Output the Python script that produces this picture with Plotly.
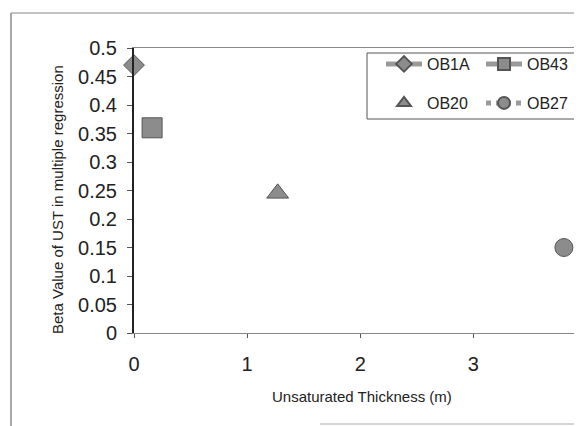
import plotly.graph_objects as go

series_names = ["OB1A", "OB43", "OB20", "OB27"]
x_values = [0.0, 0.16, 1.27, 3.8]
y_values = [0.47, 0.36, 0.245, 0.15]
symbols = ["diamond", "square", "triangle-up", "circle"]
modes = ["lines+markers", "lines+markers", "markers", "lines+markers"]
dashes = ["solid", "solid", "solid", "dot"]
sizes = [16, 20, 19, 18]
legend_ids = ["legend", "legend2", "legend3", "legend4"]

y_ticks = [0, 0.05, 0.1, 0.15, 0.2, 0.25, 0.3, 0.35, 0.4, 0.45, 0.5]
y_tick_text = ["0", "0.05", "0.1", "0.15", "0.2", "0.25", "0.3", "0.35", "0.4", "0.45", "0.5"]
x_ticks = [0, 1, 2, 3, 4]

# page offset of the browser (body margin)
OFF = 8
W, H = 582 - OFF, 426 - OFF
L, T = 134 - OFF, 48 - OFF
B = H - (333 - OFF)
R = 0
pw, ph = W - L - R, H - T - B


def px_x(p):
    return (p - OFF - L) / pw


def px_y(p):
    return 1 - (p - OFF - T) / ph


fig = go.Figure()
for i, name in enumerate(series_names):
    fig.add_trace(go.Scatter(
        x=[x_values[i]], y=[y_values[i]], name=name, mode=modes[i],
        marker=dict(symbol=symbols[i], size=sizes[i], color="#8c8c8c",
                    line=dict(color="#555555", width=1)),
        line=dict(color="#9a9a9a", width=2, dash=dashes[i]),
        legend=legend_ids[i], cliponaxis=False,
    ))

font = "Liberation Sans, Arial, sans-serif"
leg_common = dict(orientation="v", xanchor="left", yanchor="middle",
                  bgcolor="rgba(0,0,0,0)", borderwidth=0, itemsizing="constant",
                  itemwidth=36,
                  font=dict(family=font, size=16, color="#222"))

leg_pos = {  # (legend-left window x, row centre window y)
    "legend": (381, 64),
    "legend2": (481, 64),
    "legend3": (381, 103),
    "legend4": (481, 103),
}
legends = {k: dict(x=px_x(v[0]), y=px_y(v[1]), **leg_common) for k, v in leg_pos.items()}

fig.update_layout(
    width=W, height=H,
    margin=dict(l=L, r=R, t=T, b=B),
    paper_bgcolor="white", plot_bgcolor="white",
    font=dict(family=font, color="#222"),
    showlegend=True,
    **legends,
    xaxis=dict(range=[0, 3.96], tickvals=x_ticks, showgrid=False, zeroline=False,
               showline=True, linecolor="#888", linewidth=1, mirror=True,
               ticks="outside", ticklen=4, tickcolor="#555",
               ticklabelstandoff=9, tickfont=dict(size=20, color="#222")),
    yaxis=dict(range=[0, 0.5], tickvals=y_ticks, ticktext=y_tick_text,
               showgrid=False, zeroline=False, showline=True, linecolor="#222",
               linewidth=2, ticks="outside", ticklen=5, tickcolor="#555",
               ticklabelstandoff=6, tickfont=dict(size=20, color="#222")),
    annotations=[
        dict(text="Beta Value of UST in multiple regression", xref="paper", yref="paper",
             x=px_x(57), y=px_y(200), xanchor="center", yanchor="middle",
             textangle=-90, showarrow=False,
             font=dict(size=15, color="#222")),
        dict(text="Unsaturated Thickness (m)", xref="paper", yref="paper",
             x=px_x(362), y=px_y(396), xanchor="center", yanchor="middle",
             showarrow=False, font=dict(size=15, color="#222")),
    ],
    shapes=[
        dict(type="rect", xref="paper", yref="paper", x0=px_x(367), x1=px_x(580),
             y0=px_y(119), y1=px_y(53), line=dict(color="#555", width=1)),
        dict(type="line", xref="paper", yref="paper", x0=px_x(11), x1=px_x(11),
             y0=px_y(13), y1=px_y(426), line=dict(color="#555", width=1)),
        dict(type="line", xref="paper", yref="paper", x0=px_x(11), x1=px_x(582),
             y0=px_y(13), y1=px_y(13), line=dict(color="#888", width=1)),
        dict(type="line", xref="paper", yref="paper", x0=px_x(320), x1=px_x(582),
             y0=px_y(424), y1=px_y(424), line=dict(color="#aaa", width=1)),
    ],
)

fig.write_html("out.html")
